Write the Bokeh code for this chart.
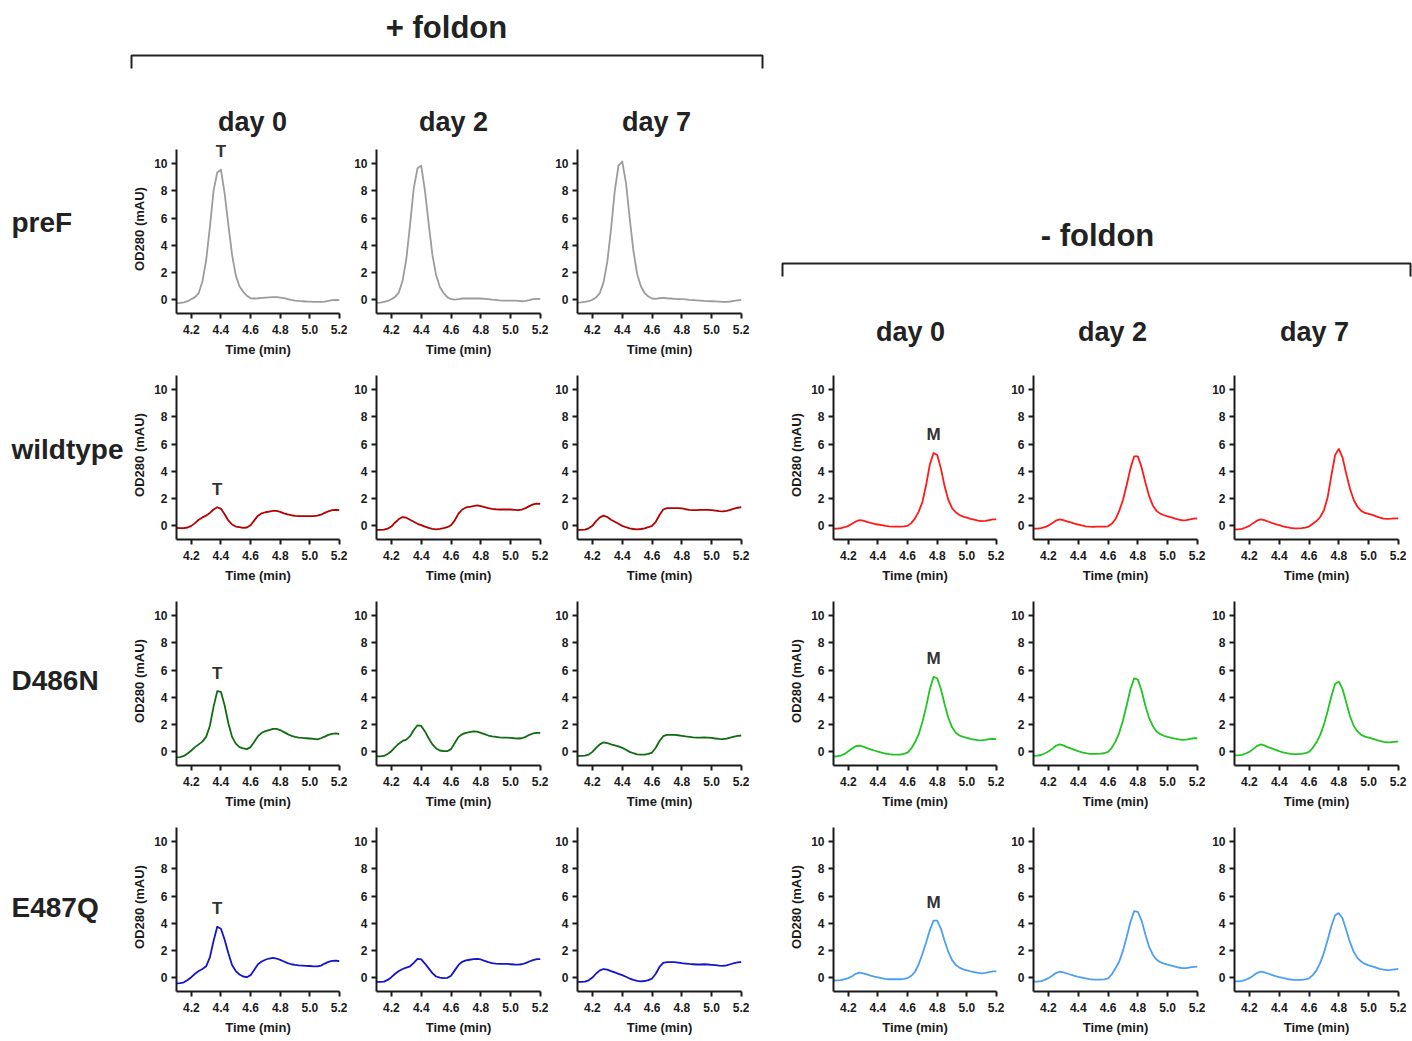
from bokeh.plotting import figure
from bokeh.layouts import row, column
from bokeh.models import Range1d, FixedTicker, PrintfTickFormatter, Label, ColumnDataSource, Spacer
from bokeh.embed import file_html
from bokeh.resources import INLINE
from bokeh.core.properties import value

# ---------------- data ----------------
TIME = [4.100, 4.125, 4.150, 4.175, 4.200, 4.225, 4.250, 4.275, 4.300,
        4.325, 4.350, 4.375, 4.400, 4.425, 4.450, 4.475, 4.500, 4.525,
        4.550, 4.575, 4.600, 4.625, 4.650, 4.675, 4.700, 4.725, 4.750,
        4.775, 4.800, 4.825, 4.850, 4.875, 4.900, 4.925, 4.950, 4.975,
        5.000, 5.025, 5.050, 5.075, 5.100, 5.125, 5.150, 5.175, 5.200]

X_TICKS = [4.2, 4.4, 4.6, 4.8, 5.0, 5.2]
Y_TICKS = [0, 2, 4, 6, 8, 10]

ROWS = ["preF", "wildtype", "D486N", "E487Q"]
MINUS_ROWS = ["wildtype", "D486N", "E487Q"]
DAYS = ["day 0", "day 2", "day 7"]
GROUP_TITLES = ["+ foldon", "- foldon"]

# + foldon
PREF_PLUS_D0 = [-0.25, -0.22, -0.18, -0.10, 0.05, 0.20, 0.50, 1.35, 2.90,
                5.30, 8.00, 9.35, 9.55, 7.80, 5.50, 3.30, 1.80, 1.00,
                0.60, 0.30, 0.12, 0.10, 0.12, 0.15, 0.17, 0.19, 0.20,
                0.20, 0.17, 0.12, 0.06, 0.00, -0.05, -0.08, -0.10, -0.12,
                -0.13, -0.14, -0.15, -0.15, -0.13, -0.08, -0.02, 0.00, -0.02]
PREF_PLUS_D2 = [-0.22, -0.20, -0.15, -0.08, 0.05, 0.22, 0.55, 1.40, 3.00,
                5.50, 8.20, 9.65, 9.85, 8.00, 5.60, 3.30, 1.80, 0.95,
                0.50, 0.20, 0.05, 0.02, 0.05, 0.10, 0.11, 0.10, 0.10,
                0.10, 0.10, 0.08, 0.05, 0.02, 0.00, -0.03, -0.05, -0.06,
                -0.05, -0.06, -0.08, -0.10, -0.08, -0.02, 0.05, 0.08, 0.08]
PREF_PLUS_D7 = [-0.20, -0.18, -0.15, -0.10, 0.00, 0.18, 0.50, 1.30, 2.80,
                5.20, 8.00, 9.85, 10.15, 8.60, 6.00, 3.60, 1.90, 1.00,
                0.50, 0.25, 0.10, 0.07, 0.12, 0.15, 0.12, 0.10, 0.08,
                0.06, 0.05, 0.03, 0.00, -0.02, -0.04, -0.06, -0.08, -0.09,
                -0.10, -0.11, -0.13, -0.15, -0.15, -0.12, -0.07, -0.03, 0.00]
WT_PLUS_D0 = [-0.15, -0.17, -0.17, -0.12, 0.00, 0.20, 0.45, 0.62, 0.75,
              0.95, 1.20, 1.37, 1.25, 0.85, 0.40, 0.10, -0.05, -0.10,
              -0.15, -0.12, 0.05, 0.40, 0.75, 0.92, 1.00, 1.05, 1.10,
              1.10, 1.02, 0.92, 0.84, 0.78, 0.74, 0.72, 0.72, 0.72,
              0.72, 0.72, 0.75, 0.82, 0.95, 1.07, 1.15, 1.18, 1.15]
WT_PLUS_D2 = [-0.30, -0.30, -0.28, -0.20, -0.05, 0.25, 0.50, 0.65, 0.60,
              0.45, 0.30, 0.15, 0.05, -0.05, -0.15, -0.22, -0.25, -0.22,
              -0.17, -0.10, 0.05, 0.40, 0.90, 1.20, 1.35, 1.40, 1.45,
              1.50, 1.45, 1.38, 1.30, 1.25, 1.22, 1.20, 1.20, 1.20,
              1.20, 1.18, 1.15, 1.20, 1.30, 1.45, 1.58, 1.63, 1.62]
WT_PLUS_D7 = [-0.30, -0.30, -0.28, -0.18, 0.00, 0.35, 0.62, 0.75, 0.65,
              0.45, 0.30, 0.15, 0.00, -0.10, -0.18, -0.23, -0.25, -0.23,
              -0.18, -0.10, 0.00, 0.30, 0.80, 1.20, 1.30, 1.30, 1.30,
              1.30, 1.28, 1.22, 1.18, 1.15, 1.15, 1.17, 1.18, 1.18,
              1.15, 1.12, 1.08, 1.07, 1.10, 1.18, 1.27, 1.33, 1.38]
D486N_PLUS_D0 = [-0.40, -0.38, -0.30, -0.12, 0.10, 0.35, 0.55, 0.75, 1.10,
                 1.90, 3.30, 4.45, 4.40, 3.40, 2.10, 1.10, 0.60, 0.35,
                 0.25, 0.20, 0.35, 0.75, 1.15, 1.40, 1.52, 1.60, 1.68,
                 1.68, 1.60, 1.45, 1.30, 1.18, 1.10, 1.05, 1.02, 1.00,
                 0.98, 0.95, 0.92, 1.00, 1.12, 1.25, 1.32, 1.35, 1.30]
D486N_PLUS_D2 = [-0.32, -0.33, -0.30, -0.15, 0.05, 0.35, 0.60, 0.80, 0.90,
                 1.15, 1.60, 1.95, 1.90, 1.50, 1.00, 0.55, 0.25, 0.10,
                 0.05, 0.05, 0.20, 0.65, 1.10, 1.30, 1.40, 1.45, 1.50,
                 1.48, 1.40, 1.30, 1.20, 1.13, 1.10, 1.07, 1.05, 1.05,
                 1.03, 1.00, 0.98, 1.00, 1.10, 1.25, 1.35, 1.40, 1.40]
D486N_PLUS_D7 = [-0.30, -0.30, -0.28, -0.20, 0.00, 0.30, 0.55, 0.70, 0.65,
                 0.55, 0.48, 0.40, 0.30, 0.15, 0.00, -0.10, -0.18, -0.20,
                 -0.20, -0.15, -0.05, 0.30, 0.80, 1.15, 1.25, 1.25, 1.25,
                 1.22, 1.18, 1.13, 1.10, 1.07, 1.05, 1.05, 1.07, 1.05,
                 1.02, 0.98, 0.95, 0.93, 0.97, 1.05, 1.12, 1.17, 1.20]
E487Q_PLUS_D0 = [-0.40, -0.38, -0.33, -0.15, 0.05, 0.30, 0.50, 0.65, 0.85,
                 1.50, 2.70, 3.75, 3.60, 2.80, 1.80, 0.95, 0.50, 0.25,
                 0.10, 0.05, 0.20, 0.60, 1.00, 1.20, 1.33, 1.42, 1.47,
                 1.42, 1.32, 1.20, 1.08, 1.00, 0.95, 0.92, 0.90, 0.88,
                 0.87, 0.85, 0.84, 0.90, 1.05, 1.17, 1.25, 1.26, 1.22]
E487Q_PLUS_D2 = [-0.30, -0.30, -0.28, -0.15, 0.05, 0.30, 0.50, 0.65, 0.75,
                 0.85, 1.10, 1.40, 1.35, 1.05, 0.70, 0.35, 0.10, 0.02,
                 -0.02, 0.00, 0.15, 0.55, 0.95, 1.18, 1.28, 1.33, 1.38,
                 1.40, 1.35, 1.25, 1.15, 1.08, 1.05, 1.03, 1.02, 1.02,
                 1.00, 0.98, 0.97, 1.00, 1.08, 1.20, 1.30, 1.37, 1.38]
E487Q_PLUS_D7 = [-0.30, -0.30, -0.28, -0.18, 0.02, 0.32, 0.55, 0.65, 0.60,
                 0.50, 0.40, 0.30, 0.20, 0.08, -0.05, -0.15, -0.22, -0.25,
                 -0.23, -0.17, -0.05, 0.30, 0.80, 1.10, 1.15, 1.15, 1.15,
                 1.12, 1.08, 1.05, 1.02, 1.00, 0.98, 0.98, 1.00, 0.98,
                 0.96, 0.93, 0.90, 0.88, 0.92, 1.00, 1.08, 1.14, 1.18]

# - foldon
WT_MINUS_D0 = [-0.20, -0.20, -0.17, -0.10, 0.00, 0.15, 0.32, 0.42, 0.38,
               0.30, 0.22, 0.15, 0.10, 0.05, 0.00, -0.03, -0.05, -0.05,
               -0.05, -0.04, 0.00, 0.20, 0.55, 1.05, 1.75, 3.00, 4.50,
               5.35, 5.20, 4.20, 2.90, 1.90, 1.30, 1.00, 0.80, 0.68,
               0.60, 0.52, 0.45, 0.38, 0.35, 0.36, 0.42, 0.47, 0.47]
WT_MINUS_D2 = [-0.20, -0.20, -0.17, -0.10, 0.02, 0.20, 0.38, 0.47, 0.42,
               0.33, 0.25, 0.17, 0.10, 0.03, -0.03, -0.06, -0.07, -0.06,
               -0.05, -0.05, -0.03, 0.15, 0.50, 1.10, 1.90, 3.00, 4.20,
               5.10, 5.10, 4.30, 3.20, 2.20, 1.50, 1.10, 0.90, 0.78,
               0.70, 0.62, 0.54, 0.46, 0.41, 0.42, 0.48, 0.53, 0.55]
WT_MINUS_D7 = [-0.25, -0.25, -0.22, -0.12, 0.00, 0.20, 0.38, 0.47, 0.42,
               0.32, 0.22, 0.13, 0.05, -0.03, -0.10, -0.15, -0.18, -0.18,
               -0.17, -0.13, -0.05, 0.15, 0.35, 0.65, 1.15, 2.10, 3.70,
               5.20, 5.65, 5.00, 3.80, 2.70, 1.90, 1.40, 1.10, 0.95,
               0.88, 0.80, 0.70, 0.60, 0.53, 0.52, 0.53, 0.55, 0.55]
D486N_MINUS_D0 = [-0.35, -0.32, -0.27, -0.15, 0.05, 0.25, 0.42, 0.45, 0.38,
                  0.28, 0.18, 0.10, 0.02, -0.05, -0.12, -0.17, -0.20, -0.20,
                  -0.20, -0.15, -0.05, 0.25, 0.70, 1.30, 2.20, 3.30, 4.60,
                  5.50, 5.40, 4.60, 3.50, 2.50, 1.80, 1.40, 1.20, 1.10,
                  1.02, 0.95, 0.90, 0.86, 0.85, 0.88, 0.93, 0.95, 0.93]
D486N_MINUS_D2 = [-0.30, -0.28, -0.23, -0.12, 0.03, 0.22, 0.45, 0.55, 0.48,
                  0.35, 0.25, 0.15, 0.05, -0.03, -0.10, -0.14, -0.15, -0.15,
                  -0.13, -0.10, 0.00, 0.30, 0.75, 1.40, 2.30, 3.40, 4.60,
                  5.40, 5.30, 4.50, 3.40, 2.50, 1.90, 1.50, 1.30, 1.18,
                  1.10, 1.03, 0.97, 0.92, 0.88, 0.90, 0.96, 1.00, 1.00]
D486N_MINUS_D7 = [-0.25, -0.25, -0.22, -0.12, 0.00, 0.20, 0.42, 0.55, 0.48,
                  0.35, 0.25, 0.15, 0.05, -0.03, -0.10, -0.15, -0.16, -0.16,
                  -0.14, -0.10, 0.00, 0.30, 0.70, 1.25, 2.00, 3.00, 4.10,
                  5.00, 5.15, 4.60, 3.60, 2.60, 1.90, 1.50, 1.25, 1.12,
                  1.05, 0.97, 0.88, 0.80, 0.73, 0.70, 0.71, 0.74, 0.77]
E487Q_MINUS_D0 = [-0.20, -0.18, -0.16, -0.10, -0.02, 0.12, 0.30, 0.38, 0.33,
                  0.25, 0.17, 0.10, 0.04, -0.02, -0.07, -0.10, -0.10, -0.10,
                  -0.10, -0.08, -0.02, 0.15, 0.45, 1.00, 1.75, 2.60, 3.50,
                  4.20, 4.20, 3.60, 2.70, 1.90, 1.30, 0.95, 0.75, 0.62,
                  0.55, 0.48, 0.42, 0.36, 0.33, 0.36, 0.43, 0.48, 0.48]
E487Q_MINUS_D2 = [-0.28, -0.27, -0.24, -0.15, -0.02, 0.15, 0.35, 0.45, 0.40,
                  0.32, 0.23, 0.15, 0.08, 0.02, -0.04, -0.09, -0.12, -0.13,
                  -0.13, -0.11, -0.04, 0.25, 0.70, 1.20, 2.00, 3.00, 4.10,
                  4.90, 4.85, 4.20, 3.20, 2.30, 1.70, 1.35, 1.15, 1.05,
                  0.97, 0.90, 0.83, 0.76, 0.72, 0.72, 0.77, 0.81, 0.82]
E487Q_MINUS_D7 = [-0.25, -0.25, -0.22, -0.14, -0.02, 0.15, 0.35, 0.45, 0.40,
                  0.32, 0.22, 0.13, 0.06, 0.00, -0.07, -0.12, -0.15, -0.15,
                  -0.14, -0.11, -0.03, 0.20, 0.55, 1.10, 1.85, 2.80, 3.80,
                  4.60, 4.75, 4.35, 3.50, 2.60, 1.90, 1.45, 1.20, 1.02,
                  0.92, 0.84, 0.75, 0.66, 0.60, 0.57, 0.59, 0.62, 0.65]

PLUS = {"preF": [PREF_PLUS_D0, PREF_PLUS_D2, PREF_PLUS_D7],
        "wildtype": [WT_PLUS_D0, WT_PLUS_D2, WT_PLUS_D7],
        "D486N": [D486N_PLUS_D0, D486N_PLUS_D2, D486N_PLUS_D7],
        "E487Q": [E487Q_PLUS_D0, E487Q_PLUS_D2, E487Q_PLUS_D7]}
MINUS = {"wildtype": [WT_MINUS_D0, WT_MINUS_D2, WT_MINUS_D7],
         "D486N": [D486N_MINUS_D0, D486N_MINUS_D2, D486N_MINUS_D7],
         "E487Q": [E487Q_MINUS_D0, E487Q_MINUS_D2, E487Q_MINUS_D7]}

COLORS_PLUS = {"preF": "#9c9c9c", "wildtype": "#b30000", "D486N": "#116b12", "E487Q": "#1515c8"}
COLORS_MINUS = {"wildtype": "#ff1a1a", "D486N": "#22c422", "E487Q": "#4c9ff5"}

# ---------------- style ----------------
FONT = "Liberation Sans"
TXT = "#222222"
AX = "#1a1a1a"
FW, FH = 164, 171          # frame covers y from -1 to 11.4; axis drawn only to 11
Y_LO, Y_HI, Y_AXIS_TOP = -1, 11.4, 11


def panel(vals, color, ylabel, ann, top, bottom):
    left = 46 if ylabel else 29
    right = 8
    p = figure(width=left + FW + right, height=top + FH + bottom,
               x_range=Range1d(4.1, 5.2), y_range=Range1d(Y_LO, Y_HI),
               output_backend="svg", toolbar_location=None,
               min_border_left=left, min_border_right=right,
               min_border_top=top, min_border_bottom=bottom)
    p.outline_line_color = None
    p.grid.visible = False
    p.xaxis.ticker = FixedTicker(ticks=X_TICKS)
    p.xaxis.formatter = PrintfTickFormatter(format="%.1f")
    p.yaxis.ticker = FixedTicker(ticks=Y_TICKS)
    p.yaxis.bounds = (Y_LO, Y_AXIS_TOP)
    for ax in (p.xaxis[0], p.yaxis[0]):
        ax.axis_line_width = 2
        ax.axis_line_color = AX
        ax.major_tick_line_width = 2
        ax.major_tick_line_color = AX
        ax.major_tick_out = 5
        ax.major_tick_in = 0
        ax.minor_tick_line_color = None
        ax.major_label_text_font = FONT
        ax.major_label_text_font_style = "bold"
        ax.major_label_text_font_size = "12px"
        ax.major_label_text_color = AX
        ax.major_label_standoff = 4
        ax.axis_label_text_font = FONT
        ax.axis_label_text_font_style = "bold"
        ax.axis_label_text_font_size = "13px"
        ax.axis_label_text_color = AX
        ax.axis_label_standoff = 4
    p.xaxis.major_label_standoff = 6
    p.xaxis.axis_label_standoff = 5
    p.xaxis.axis_label = "Time (min)"
    if ylabel:
        p.yaxis.axis_label = "OD280 (mAU)"
    src = ColumnDataSource(dict(t=TIME, v=vals))
    p.line("t", "v", source=src, line_color=color, line_width=1.8, line_join="round")
    if ann:
        i = max(range(len(vals)), key=lambda k: vals[k])
        p.add_layout(Label(x=TIME[i], y=vals[i], y_offset=18, text=ann,
                           text_align="center", text_baseline="alphabetic",
                           text_font=FONT, text_font_style="bold",
                           text_font_size="17px", text_color="#333333"))
    return p


def canvas(w, h, x0, y0):
    p = figure(width=w, height=h, x_range=Range1d(x0, x0 + w),
               y_range=Range1d(y0 + h, y0), output_backend="svg",
               toolbar_location=None, x_axis_location=None, y_axis_location=None,
               min_border=0)
    p.outline_line_color = None
    p.grid.visible = False
    return p


def put_text(p, xs, ys, texts, size, align="center"):
    p.text(x=xs, y=ys, text=texts, text_font=value(FONT), text_font_style="bold",
           text_font_size=size, text_align=align, text_baseline="middle",
           text_color=TXT)


# ---- left group (+ foldon) ----
HL = canvas(776, 140, 0, 0)
put_text(HL, [446], [27], [GROUP_TITLES[0]], "31px")
HL.line(x=[131, 131, 762, 762], y=[68, 55, 55, 68], line_color=TXT, line_width=2)
put_text(HL, [252, 453, 656], [121, 121, 121], DAYS, "27px")

RL = canvas(129, 897, 0, 140)
put_text(RL, [11, 11, 11, 11], [222, 449, 680, 907], ROWS, "28px", align="left")

left_rows = []
for r, name in enumerate(ROWS):
    top = 4 if r == 0 else 11
    figs = [panel(PLUS[name][c], COLORS_PLUS[name], c == 0, "T" if c == 0 else None, top, 44)
            for c in range(3)]
    left_rows.append(row(*figs))
left_group = column(HL, row(RL, column(*left_rows)))

# ---- right group (- foldon) ----
HR = canvas(636, 359, 776, 0)
put_text(HR, [1097], [235], [GROUP_TITLES[1]], "31px")
HR.line(x=[782, 782, 1410, 1410], y=[276, 263, 263, 276], line_color=TXT, line_width=2)
put_text(HR, [910, 1112, 1314], [331, 331, 331], DAYS, "27px")

right_rows = []
for r, name in enumerate(MINUS_ROWS):
    figs = [panel(MINUS[name][c], COLORS_MINUS[name], c == 0, "M" if c == 0 else None, 11, 44)
            for c in range(3)]
    right_rows.append(row(Spacer(width=10, height=10), *figs))
right_group = column(HR, *right_rows)

layout = row(left_group, right_group)

open("out.html", "w").write(file_html(layout, INLINE))
